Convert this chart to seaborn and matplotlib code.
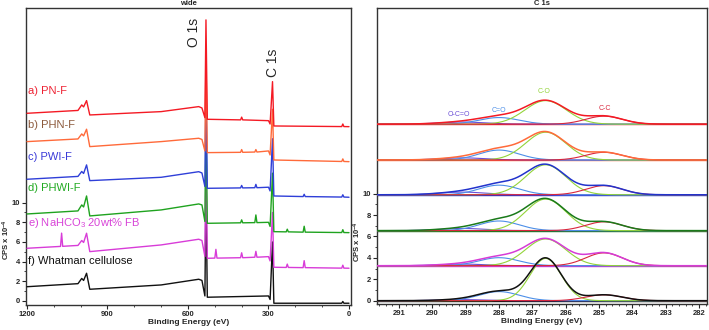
import numpy as np
import matplotlib.pyplot as plt
import seaborn as sns
from matplotlib.ticker import MultipleLocator, FixedLocator

sns.set_style("ticks")
plt.rcParams['font.family'] = ['Liberation Sans', 'DejaVu Sans']
plt.rcParams['mathtext.default'] = 'regular'

# ---- wide scans: binding energy (eV) / CPS x 1e-4, keypoints
e_a = [1200, 1010, 996, 989, 978, 966, 700, 560, 548, 537, 533, 528, 404, 400, 396, 300, 294, 285, 280, 27, 23, 19, 0]
i_a = [19.09, 19.38, 19.94, 19.74, 20.38, 18.92, 19.26, 19.77, 19.63, 18.65, 28.59, 18.48, 18.42, 18.7, 18.42,
       18.34, 18.0, 22.31, 17.80, 17.74, 18.0, 17.74, 17.73]

e_b = [1200, 1010, 996, 989, 978, 966, 700, 560, 548, 537, 533, 528, 404, 400, 396, 351, 347, 343, 300, 294, 285, 280,
       27, 23, 19, 0]
i_b = [16.21, 16.48, 16.99, 16.79, 17.47, 15.70, 16.21, 16.55, 16.43, 15.26, 25.0, 15.09, 15.12, 15.4, 15.12,
       15.15, 15.4, 15.15, 15.26, 14.85, 19.5, 14.34, 14.19, 14.45, 14.19, 14.17]

e_c = [1200, 1010, 996, 989, 978, 966, 700, 560, 548, 537, 533, 528, 404, 400, 396, 351, 347, 343, 300, 294, 285, 280,
       171, 167, 163, 27, 23, 19, 0]
i_c = [12.38, 12.67, 13.17, 12.97, 13.84, 12.24, 12.58, 13.15, 13.02, 11.65, 22.0, 11.46, 11.5, 11.75, 11.5,
       11.52, 11.86, 11.52, 11.57, 11.19, 16.5, 10.68, 10.62, 10.85, 10.62, 10.57, 10.8, 10.57, 10.55]

e_d = [1200, 1010, 996, 989, 978, 966, 700, 560, 548, 537, 533, 528, 404, 400, 396, 351, 347, 343, 300, 294, 285, 280,
       234, 230, 226, 171, 167, 163, 27, 23, 19, 0]
i_d = [8.85, 9.16, 9.77, 9.56, 10.68, 8.65, 9.26, 9.87, 9.77, 8.09, 19.0, 7.90, 7.95, 8.25, 7.95,
       7.97, 8.75, 7.97, 8.0, 7.58, 13.0, 7.05, 7.03, 7.3, 7.03, 7.0, 7.6, 7.0, 6.96, 7.25, 6.96, 6.95]

e_e = [1200, 1075, 1071, 1067, 1010, 996, 989, 978, 966, 700, 560, 548, 537, 533, 528, 500, 496, 492, 404, 400, 396,
       351, 347, 343, 300, 294, 285, 280, 234, 230, 226, 171, 167, 163, 27, 23, 19, 0]
i_e = [5.36, 5.55, 6.9, 5.56, 5.65, 6.15, 5.95, 6.89, 5.02, 5.70, 6.28, 6.15, 4.53, 15.0, 4.34, 4.36, 5.25, 4.36,
       4.4, 4.9, 4.4, 4.45, 5.05, 4.45, 4.51, 4.07, 9.0, 3.43, 3.41, 3.75, 3.41, 3.39, 4.1, 3.39, 3.34, 3.64, 3.34, 3.33]

e_f = [1200, 1010, 996, 989, 978, 966, 700, 560, 548, 537, 533, 528, 300, 294, 285, 280, 27, 23, 19, 0]
i_f = [1.45, 1.76, 2.29, 2.09, 2.82, 1.19, 1.63, 2.21, 2.09, 0.51, 11.5, 0.38, 0.51, 0.15, 6.0, -0.23,
       -0.23, -0.05, -0.23, -0.23]

wide_labels = ["a) PN-F", "b) PHN-F", "c) PWI-F", "d) PHWI-F", r"e) NaHCO$_3$ 20wt% FB", "f) Whatman cellulose"]
label_y = [21.4, 17.9, 14.6, 11.5, 7.9, 4.1]
line_colors = ["#f41a24", "#ff6a3a", "#2f3fd8", "#1fa31f", "#d83cd8", "#111111"]
text_colors = ["#ee2233", "#8c5a3c", "#3a3ad8", "#22aa22", "#d844d8", "#111111"]

# ---- C 1s fits: peak centre (eV), width (sigma, eV), heights above each baseline
comp_names = ["O-C=O", "C=O", "C-O", "C-C"]
comp_colors = ["#6b4fd6", "#4d8fe8", "#93d43a", "#d9263d"]
comp_centers = [289.1, 288.0, 286.6, 284.85]
comp_sigma = [0.7, 0.6, 0.62, 0.55]
co_sigma = [0.62, 0.6, 0.6, 0.6, 0.6, 0.47]
h_a = [0.2, 0.62, 2.2, 0.75]
h_b = [0.2, 0.93, 2.6, 0.72]
h_c = [0.25, 0.9, 2.8, 0.85]
h_d = [0.2, 0.9, 2.95, 0.82]
h_e = [0.15, 0.75, 2.5, 1.2]
h_f = [0.1, 0.85, 3.95, 0.55]
c1s_base = [16.5, 13.15, 9.9, 6.55, 3.27, 0.0]
c1s_colors = ["#f41a24", "#ff6a3a", "#2233cc", "#1a7a1a", "#d63cd6", "#111111"]
comp_label_x = [289.2, 288.0, 286.64, 284.84]
comp_label_y = [17.45, 17.8, 19.6, 18.0]

fig = plt.figure(figsize=(7.09, 3.30), dpi=100)
ax1 = fig.add_axes([26 / 709, 1 - 305 / 330, 325 / 709, 297 / 330])
ax2 = fig.add_axes([377 / 709, 1 - 304 / 330, 330 / 709, 296 / 330])

# wide scans, bottom trace first so upper ones cover the shared peaks
wide = [(e_a, i_a), (e_b, i_b), (e_c, i_c), (e_d, i_d), (e_e, i_e), (e_f, i_f)]
for k in range(5, -1, -1):
    e, i = wide[k]
    sns.lineplot(x=e, y=i, ax=ax1, color=line_colors[k], lw=1.0, sort=False, zorder=2 + (6 - k))
    ax1.text(1195, label_y[k], wide_labels[k], color=text_colors[k], fontsize=8, va='center', ha='left', zorder=20)

ax1.text(577, 27.3, "O 1s", rotation=90, fontsize=10, ha='center', va='center')
ax1.text(285, 24.2, "C 1s", rotation=90, fontsize=10, ha='center', va='center')

ax1.set_xlim(1203.7, -7.5)
ax1.set_ylim(-0.41, 29.8)
ax1.set_xticks([1200, 900, 600, 300, 0])
ax1.xaxis.set_minor_locator(MultipleLocator(100))
ax1.set_yticks([0, 2, 4, 6, 8, 10])
ax1.yaxis.set_minor_locator(FixedLocator([1, 3, 5, 7, 9]))
ax1.set_title("wide", fontsize=5.5, fontweight='bold', pad=2)

# C 1s
xg = np.linspace(291.66, 281.76, 700)
heights = [h_a, h_b, h_c, h_d, h_e, h_f]
for k in range(5, -1, -1):
    b = c1s_base[k]
    sigmas = list(comp_sigma)
    sigmas[2] = co_sigma[k]
    comps = [heights[k][j] * np.exp(-(xg - comp_centers[j]) ** 2 / (2 * sigmas[j] ** 2)) for j in range(4)]
    sns.lineplot(x=xg, y=np.full_like(xg, b), ax=ax2, color=c1s_colors[k], lw=1.0, sort=False, zorder=2)
    for j in range(4):
        sns.lineplot(x=xg, y=b + comps[j], ax=ax2, color=comp_colors[j], lw=0.8, sort=False, zorder=3)
    sns.lineplot(x=xg, y=b + sum(comps), ax=ax2, color=c1s_colors[k], lw=1.1, sort=False, zorder=4)

for j in range(4):
    ax2.text(comp_label_x[j], comp_label_y[j], comp_names[j], color=comp_colors[j], fontsize=5,
             ha='center', va='center')

ax2.set_xlim(291.66, 281.76)
ax2.set_ylim(-0.31, 27.36)
ax2.xaxis.set_major_locator(MultipleLocator(1))
ax2.xaxis.set_minor_locator(MultipleLocator(0.2))
ax2.set_yticks([0, 2, 4, 6, 8, 10])
ax2.yaxis.set_minor_locator(FixedLocator([1, 3, 5, 7, 9]))
ax2.set_title("C 1s", fontsize=5.5, fontweight='bold', pad=2)

for ax, ly, lx in [(ax1, 0.22, -0.043), (ax2, 0.21, -0.042)]:
    ax.set_xlabel("Binding Energy (eV)", fontsize=6, fontweight='bold', labelpad=1)
    ax.set_ylabel(r"CPS x 10$^{-4}$", fontsize=5.5, fontweight='bold')
    ax.yaxis.set_label_coords(lx, ly)
    ax.tick_params(which='major', direction='out', length=3, width=0.8, labelsize=5.5, pad=1)
    ax.tick_params(which='minor', direction='out', length=1.5, width=0.6)
    for lab in ax.get_xticklabels() + ax.get_yticklabels():
        lab.set_fontweight('bold')
    for sp in ax.spines.values():
        sp.set_color('#333333')
        sp.set_linewidth(1.0)

fig.savefig("out.png", dpi=100)
